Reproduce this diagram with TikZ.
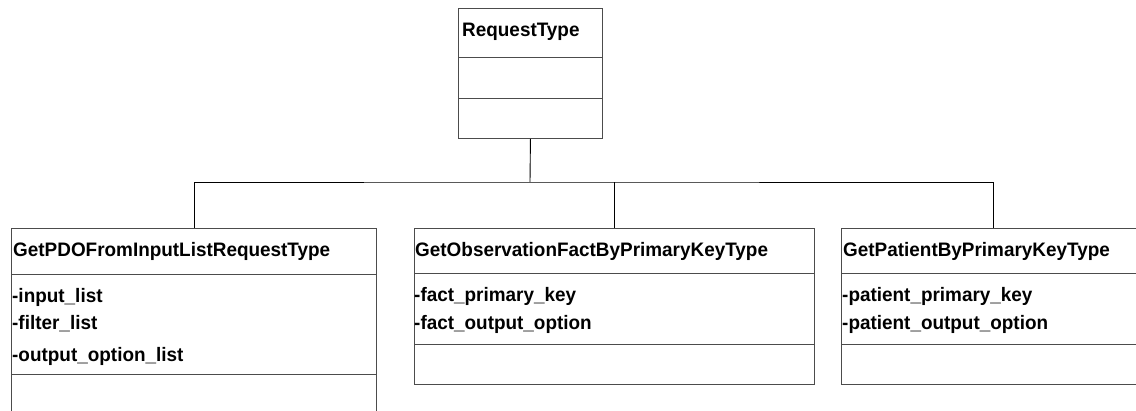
\documentclass[tikz,border=0pt]{standalone}
\usepackage{fontspec}
\setmainfont[FakeStretch=0.97]{Liberation Sans}
\usepackage{tikz}

\tikzset{
  compartment/.style={draw=black!70, line width=0.9pt, anchor=north west, inner sep=0pt},
  entry/.style={anchor=base west, inner sep=0pt, font=\fontsize{19.5}{22}\selectfont\bfseries}
}

\begin{document}
\begin{tikzpicture}[x=1pt, y=-1pt]

        \clip (0,0) rectangle (1136,411);

        %Request type
        \node [compartment, minimum width=144, minimum height=49] (reqname) at (458,8) {};
        \node [compartment, minimum width=144, minimum height=41] (reqattr) at (458,57) {};
        \node [compartment, minimum width=144, minimum height=40] (reqops) at (458,98) {};
        \node [entry] (reqtitle) at (462,37) {RequestType};

        %GetPDOFromInputList
        \node [compartment, minimum width=365, minimum height=46] (pdoname) at (11,228) {};
        \node [compartment, minimum width=365, minimum height=100] (pdoattr) at (11,274) {};
        \node [compartment, minimum width=365, minimum height=40] (pdoops) at (11,374) {};
        \node [entry] (pdotitle) at (13,257) {GetPDOFromInputListRequestType};
        \node [entry] (pdoinput) at (12,303) {-input\_list};
        \node [entry] (pdofilter) at (12,330) {-filter\_list};
        \node [entry] (pdooutput) at (12,362) {-output\_option\_list};

        %GetObservationFact
        \node [compartment, minimum width=400, minimum height=45] (factname) at (414,228) {};
        \node [compartment, minimum width=400, minimum height=71] (factattr) at (414,273) {};
        \node [compartment, minimum width=400, minimum height=40] (factops) at (414,344) {};
        \node [entry] (facttitle) at (415,257) {GetObservationFactByPrimaryKeyType};
        \node [entry] (factkey) at (414,302) {-fact\_primary\_key};
        \node [entry] (factoutput) at (414,330) {-fact\_output\_option};

        %GetPatient
        \node [compartment, minimum width=304, minimum height=45] (patname) at (841,228) {};
        \node [compartment, minimum width=304, minimum height=71] (patattr) at (841,273) {};
        \node [compartment, minimum width=304, minimum height=40] (patops) at (841,344) {};
        \node [entry] (pattitle) at (843,257) {GetPatientByPrimaryKeyType};
        \node [entry] (patkey) at (842,302) {-patient\_primary\_key};
        \node [entry] (patoutput) at (842,330) {-patient\_output\_option};

        %Generalisation lines
        \coordinate (bus) at (530,182);
        \draw [line width=0.9pt] (reqops.south) -- (bus);
        \draw [line width=0.9pt] (pdoname.north) |- (bus) -| (patname.north);
        \draw [line width=0.9pt] (factname.north) -- (factname.north |- bus);

\end{tikzpicture}
\end{document}
